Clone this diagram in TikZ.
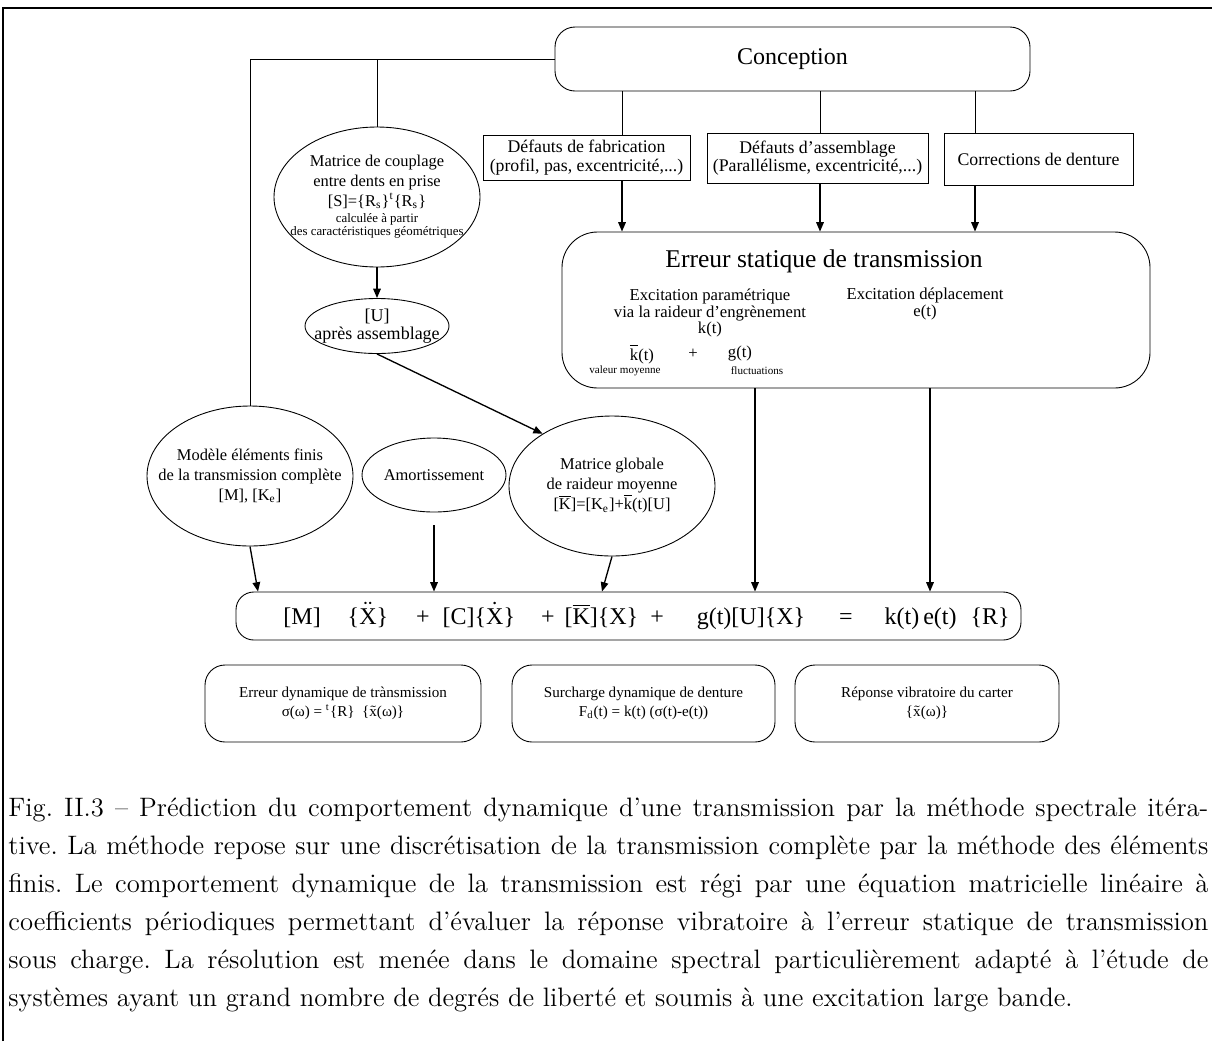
\documentclass[tikz,border=0pt]{standalone}
\usepackage{fontspec}
\usepackage{tikz}
\usetikzlibrary{positioning, arrows.meta, shapes, calc}
\newfontfamily\tnr{Liberation Serif}
\newdimen\pxu \pxu=0.45pt
\newcommand\fconc{\tnr\fontsize{10.8}{13}\selectfont}
\newcommand\ftitre{\tnr\fontsize{11.5}{13}\selectfont}
\newcommand\fboite{\tnr\fontsize{8}{8.4}\selectfont}
\newcommand\fell{\tnr\fontsize{7.4}{9}\selectfont}
\newcommand\fsm{\tnr\fontsize{5.8}{6.5}\selectfont}
\newcommand\fexc{\tnr\fontsize{7.5}{7.5}\selectfont}
\newcommand\ftiny{\tnr\fontsize{5}{6}\selectfont}
\newcommand\fdyn{\tnr\fontsize{6.8}{8.6}\selectfont}
\newcommand\gap[1]{\hspace{#1\pxu}}

\begin{document}
\begin{tikzpicture}[
        x=0.45pt, y=-0.45pt,
        box/.style={rectangle, draw, thin, inner sep=0pt, font=\fboite, align=center},
        rbox/.style={box, rounded corners=9pt},
        ell/.style={ellipse, draw, thin, inner sep=-25\pxu, font=\fell, align=center},
        txt/.style={inner sep=0pt, align=center},
        arr/.style={-{Triangle[length=4.2pt,width=3.4pt]}, line width=0.6pt},
        link/.style={thin}
    ]
    \useasboundingbox (0,0) rectangle (1212,1041);
    \draw[line width=0.5pt] (3,1041) -- (3,8) -- (1212,8);

    % blocs du haut
    \node[rbox, minimum width=475\pxu, minimum height=64\pxu, font=\fconc] (concept) at (792.5, 59) {Conception};
    \node[box, minimum width=207\pxu, minimum height=45\pxu] (fab) at (586.5, 157.5) {Défauts de fabrication\\(profil, pas, excentricité,...)};
    \node[box, minimum width=221\pxu, minimum height=50\pxu] (assem) at (817.5, 158) {Défauts d’assemblage\\(Parallélisme, excentricité,...)};
    \node[box, minimum width=189\pxu, minimum height=52\pxu] (corr) at (1038.5, 159) {Corrections de denture};

    % erreur statique
    \node[rbox, rounded corners=16pt, minimum width=588\pxu, minimum height=156\pxu] (erreur) at (856, 310) {};
    \node[txt, font=\ftitre] (errtitre) at (824, 261) {Erreur statique de transmission};
    \node[txt, font=\fexc] (exparam) at (710, 313) {Excitation paramétrique\\via la raideur d’engrènement\\k(t)};
    \node[txt, font=\fexc] (exdepl) at (925, 304) {Excitation déplacement\\e(t)};
    \node[txt, font=\fexc] (kmoy) at (642, 354) {$\overline{\hbox{k}}$(t)};
    \node[txt, font=\fexc] (plus) at (693, 354) {+};
    \node[txt, font=\fexc] (gfluct) at (740, 354) {g(t)};
    \node[txt, font=\ftiny] (valmoy) at (625, 371) {valeur moyenne};
    \node[txt, font=\ftiny] (fluct) at (757, 371) {fluctuations};

    % ellipses
    \node[ell, minimum width=206\pxu, minimum height=140\pxu] (couplage) at (377, 197) {Matrice de couplage\\entre dents en prise\\{}[S]=\{R\textsubscript{s}\}\textsuperscript{t}\{R\textsubscript{s}\}\\[-1.8pt]{\fsm calculée à partir}\\[-3pt]{\fsm des caractéristiques géométriques}};
    \node[ell, minimum width=144\pxu, minimum height=55\pxu, font=\tnr\fontsize{8.1}{8.1}\selectfont] (assemb) at (377, 326) {[U]\\après assemblage};
    \node[ell, minimum width=206\pxu, minimum height=140\pxu] (modele) at (250, 476) {Modèle éléments finis\\de la transmission complète\\{}[M], [K\textsubscript{e}]};
    \node[ell, minimum width=144\pxu, minimum height=74\pxu] (amort) at (434, 475) {Amortissement};
    \node[ell, minimum width=206\pxu, minimum height=140\pxu] (globale) at (612, 486) {Matrice globale\\de raideur moyenne\\{}[$\overline{\hbox{K}}$]=[K\textsubscript{e}]+$\overline{\hbox{k}}$(t)[U]};

    % equation
    \node[rbox, rounded corners=8pt, minimum width=785\pxu, minimum height=48\pxu] (eqn) at (628.5, 616) {};
    \node[txt, anchor=west, font=\fconc] (eqtxt) at (283, 616) {[M]\gap{27}\{$\ddot{\hbox{X}}$\}\gap{28}+\gap{13}[C]\{$\dot{\hbox{X}}$\}\gap{26}+\gap{10}[$\overline{\hbox{K}}$]\{X\}\gap{12}+\gap{33}g(t)[U]\{X\}\gap{34}=\gap{32}k(t)\,e(t)\gap{14}\{R\}};

    % resultats
    \node[rbox, minimum width=276\pxu, minimum height=77\pxu, font=\fdyn] (dyn1) at (343, 703.5) {Erreur dynamique de trànsmission\\σ(ω) = \textsuperscript{t}\{R\}\ \ \{$\tilde{\hbox{x}}$(ω)\}};
    \node[rbox, minimum width=263\pxu, minimum height=77\pxu, font=\fdyn] (dyn2) at (643.5, 703.5) {Surcharge dynamique de denture\\F\textsubscript{d}(t) = k(t) (σ(t)-e(t))};
    \node[rbox, minimum width=264\pxu, minimum height=77\pxu, font=\fdyn] (dyn3) at (927, 703.5) {Réponse vibratoire du carter\\\{$\tilde{\hbox{x}}$(ω)\}};

    % liaisons
    \draw[link] (concept.west) -| (modele.north);
    \draw[link] (couplage.north) -- (couplage.north |- concept.west);
    \foreach \n/\xx in {fab/622, assem/820, corr/975} {
        \draw[link] (concept.south -| \xx,0) -- (\n.north -| \xx,0);
        \draw[arr] (\n.south -| \xx,0) -- (erreur.north -| \xx,0);
    }
    \foreach \xx in {755, 930} {
        \draw[arr] (erreur.south -| \xx,0) -- (eqn.north -| \xx,0);
    }
    \draw[arr] (couplage.south) -- (assemb.north);
    \draw[arr] (assemb.south) -- (globale.143);
    \draw[arr] (modele.south) -- (eqn.north -| 258,0);
    \draw[arr] ([yshift=-13\pxu]amort.south) -- (eqn.north -| amort.south);
    \draw[arr] (globale.south) -- (eqn.north -| 602,0);

    % legende
    \node[anchor=north west, inner sep=0pt, text width=1200\pxu, align=justify, font=\fontsize{12}{17.1}\selectfont\frenchspacing] (legende) at (8, 797) {Fig. II.3 – Prédiction du comportement dynamique d’une transmission par la méthode spectrale itéra-\linebreak tive. La méthode repose sur une discrétisation de la transmission complète par la méthode des éléments\linebreak finis. Le comportement dynamique de la transmission est régi par une équation matricielle linéaire à\linebreak coefficients périodiques permettant d’évaluer la réponse vibratoire à l’erreur statique de transmission\linebreak sous charge. La résolution est menée dans le domaine spectral particulièrement adapté à l’étude de\linebreak systèmes ayant un grand nombre de degrés de liberté et soumis à une excitation large bande.};
\end{tikzpicture}
\end{document}
